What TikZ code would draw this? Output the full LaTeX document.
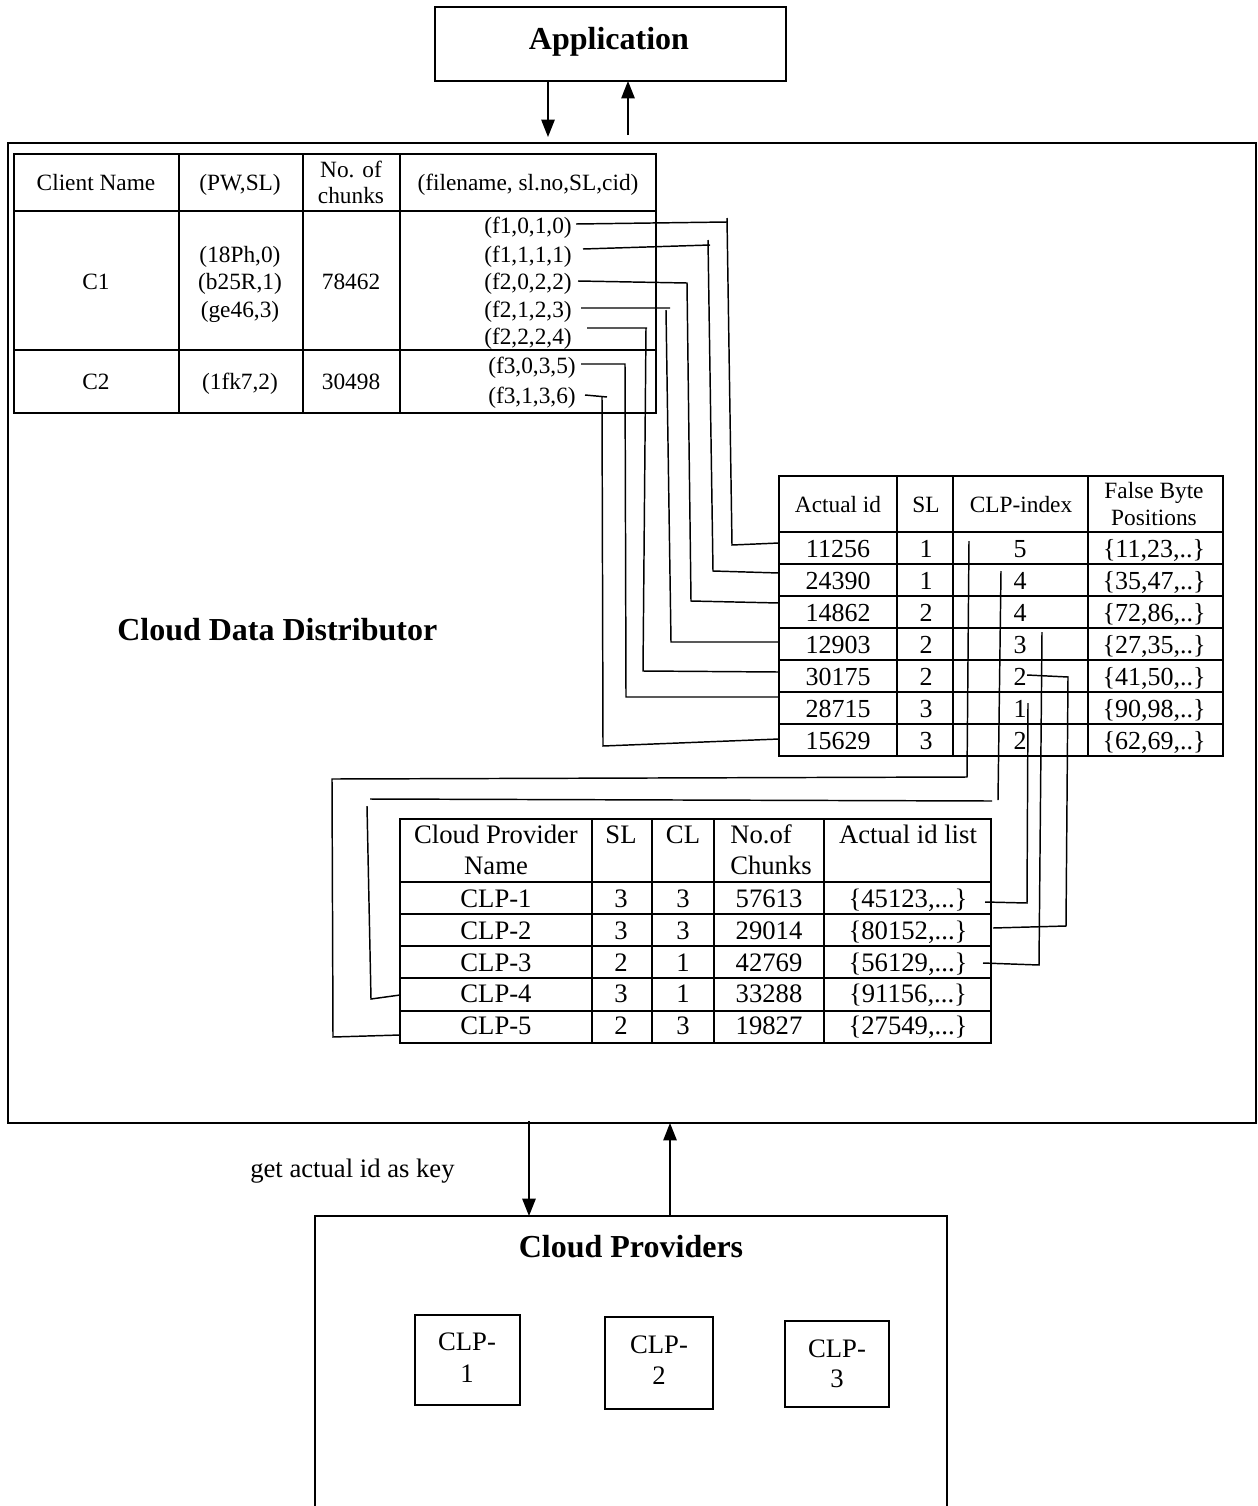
\documentclass[tikz,border=0pt]{standalone}
\usepackage{fontspec}
\setmainfont{Liberation Serif}
\usetikzlibrary{arrows.meta,fit}
\begin{document}
\begin{tikzpicture}[x=0.75pt,y=-0.75pt,
  box/.style={draw, line width=1.3pt, inner sep=0pt},
  tbl/.style={line width=1.5pt},
  conn/.style={line width=1.1pt},
  arr/.style={line width=1.2pt, -{Triangle[width=10pt,length=13pt]}},
  ttl/.style={font=\fontsize{24}{28}\selectfont\bfseries, inner sep=0pt, anchor=base},
  tA/.style={font=\fontsize{17.5}{21}\selectfont, inner sep=0pt, anchor=base},
  tBh/.style={font=\fontsize{17.5}{21}\selectfont, inner sep=0pt, anchor=base},
  tB/.style={font=\fontsize{19.5}{23}\selectfont, inner sep=0pt, anchor=base},
  tC/.style={font=\fontsize{20}{24}\selectfont, inner sep=0pt, anchor=base}
]
\useasboundingbox (0,0) rectangle (1257,1506);

% ---------------- Application ----------------
\node[box, fit={(435,7)(786,81)}] (app) {};
\node[ttl] (apptitle) at (609,49) {Application};

% ---------------- Cloud Data Distributor ----------------
\node[box, fit={(8,143)(1256,1123)}] (cdd) {};
\node[ttl, anchor=base west] (cddtitle) at (117,640) {Cloud Data Distributor};

\coordinate (a1s) at (548,81);  \coordinate (a1e) at (548,137);
\coordinate (a2s) at (628,135); \coordinate (a2e) at (628,81);
\draw[arr] (a1s) -- (a1e);
\draw[arr] (a2s) -- (a2e);

% ---------------- Table 1 ----------------
\draw[tbl] (14,154) rectangle (656,413);
\draw[tbl] (179,154) -- (179,413) (303,154) -- (303,413) (400,154) -- (400,413);
\draw[tbl] (14,211) -- (656,211) (14,350) -- (656,350);
\node[tA] (h11) at (96,190) {Client Name};
\node[tA] (h12) at (240,190) {(PW,SL)};
\node[tA] (h13a) at (351,177) {No. of};
\node[tA] (h13b) at (351,203) {chunks};
\node[tA] (h14) at (528,190) {(filename, sl.no,SL,cid)};
\node[tA] (c1) at (96,289) {C1};
\node[tA] (pw1) at (240,262) {(18Ph,0)};
\node[tA] (pw2) at (240,289) {(b25R,1)};
\node[tA] (pw3) at (240,317) {(ge46,3)};
\node[tA] (nc1) at (351,289) {78462};
\node[tA, anchor=base east] (f1) at (572,233) {(f1,0,1,0)};
\node[tA, anchor=base east] (f2) at (572,262) {(f1,1,1,1)};
\node[tA, anchor=base east] (f3) at (572,289) {(f2,0,2,2)};
\node[tA, anchor=base east] (f4) at (572,317) {(f2,1,2,3)};
\node[tA, anchor=base east] (f5) at (572,344) {(f2,2,2,4)};
\node[tA] (c2) at (96,389) {C2};
\node[tA] (pw4) at (240,389) {(1fk7,2)};
\node[tA] (nc2) at (351,389) {30498};
\node[tA, anchor=base east] (f6) at (576,373) {(f3,0,3,5)};
\node[tA, anchor=base east] (f7) at (576,403) {(f3,1,3,6)};

% ---------------- Table 2 ----------------
\draw[tbl] (779,476) rectangle (1223,756);
\draw[tbl] (897,476) -- (897,756) (953,476) -- (953,756) (1088,476) -- (1088,756);
\foreach \yy in {532,564,596,628,660,692,724} \draw[tbl] (779,\yy) -- (1223,\yy);
\node[tBh] (g1) at (838,512) {Actual id};
\node[tBh] (g2) at (926,512) {SL};
\node[tBh] (g3) at (1021,512) {CLP-index};
\node[tBh] (g4a) at (1154,498) {False Byte};
\node[tBh] (g4b) at (1154,525) {Positions};

\node[tB] (id1) at (838,557) {11256}; \node[tB] (s1) at (926,557) {1}; \node[tB] (x1) at (1020,557) {5}; \node[tB] (fb1) at (1154,557) {\{11,23,..\}};
\node[tB] (id2) at (838,589) {24390}; \node[tB] (s2) at (926,589) {1}; \node[tB] (x2) at (1020,589) {4}; \node[tB] (fb2) at (1154,589) {\{35,47,..\}};
\node[tB] (id3) at (838,621) {14862}; \node[tB] (s3) at (926,621) {2}; \node[tB] (x3) at (1020,621) {4}; \node[tB] (fb3) at (1154,621) {\{72,86,..\}};
\node[tB] (id4) at (838,653) {12903}; \node[tB] (s4) at (926,653) {2}; \node[tB] (x4) at (1020,653) {3}; \node[tB] (fb4) at (1154,653) {\{27,35,..\}};
\node[tB] (id5) at (838,685) {30175}; \node[tB] (s5) at (926,685) {2}; \node[tB] (x5) at (1020,685) {2}; \node[tB] (fb5) at (1154,685) {\{41,50,..\}};
\node[tB] (id6) at (838,717) {28715}; \node[tB] (s6) at (926,717) {3}; \node[tB] (x6) at (1020,717) {1}; \node[tB] (fb6) at (1154,717) {\{90,98,..\}};
\node[tB] (id7) at (838,749) {15629}; \node[tB] (s7) at (926,749) {3}; \node[tB] (x7) at (1020,749) {2}; \node[tB] (fb7) at (1154,749) {\{62,69,..\}};

% ---------------- Table 3 ----------------
\draw[tbl] (400,819) rectangle (991,1043);
\draw[tbl] (592,819) -- (592,1043) (652,819) -- (652,1043) (714,819) -- (714,1043) (824,819) -- (824,1043);
\foreach \yy in {882,914,946,978,1011} \draw[tbl] (400,\yy) -- (991,\yy);
\node[tC] (k1a) at (496,843) {Cloud Provider};
\node[tC] (k1b) at (496,874) {Name};
\node[tC] (k2) at (621,843) {SL};
\node[tC] (k3) at (683,843) {CL};
\node[tC, anchor=base west] (k4a) at (730,843) {No.of};
\node[tC, anchor=base west] (k4b) at (730,874) {Chunks};
\node[tC] (k5) at (908,843) {Actual id list};

\node[tC] (cp1) at (496,907) {CLP-1}; \node[tC] (sl1) at (621,907) {3}; \node[tC] (cl1) at (683,907) {3}; \node[tC] (nn1) at (769,907) {57613}; \node[tC] (al1) at (908,907) {\{45123,...\}};
\node[tC] (cp2) at (496,939) {CLP-2}; \node[tC] (sl2) at (621,939) {3}; \node[tC] (cl2) at (683,939) {3}; \node[tC] (nn2) at (769,939) {29014}; \node[tC] (al2) at (908,939) {\{80152,...\}};
\node[tC] (cp3) at (496,971) {CLP-3}; \node[tC] (sl3) at (621,971) {2}; \node[tC] (cl3) at (683,971) {1}; \node[tC] (nn3) at (769,971) {42769}; \node[tC] (al3) at (908,971) {\{56129,...\}};
\node[tC] (cp4) at (496,1002) {CLP-4}; \node[tC] (sl4) at (621,1002) {3}; \node[tC] (cl4) at (683,1002) {1}; \node[tC] (nn4) at (769,1002) {33288}; \node[tC] (al4) at (908,1002) {\{91156,...\}};
\node[tC] (cp5) at (496,1034) {CLP-5}; \node[tC] (sl5) at (621,1034) {2}; \node[tC] (cl5) at (683,1034) {3}; \node[tC] (nn5) at (769,1034) {19827}; \node[tC] (al5) at (908,1034) {\{27549,...\}};

% ---------------- connectors table 1 -> table 2 ----------------
\coordinate (p1) at (576,224); \coordinate (q1) at (779,543);
\coordinate (p2) at (583,249); \coordinate (q2) at (779,573);
\coordinate (p3) at (578,281); \coordinate (q3) at (779,603);
\coordinate (p4) at (581,308); \coordinate (q4) at (779,642);
\coordinate (p5) at (587,328); \coordinate (q5) at (779,672);
\coordinate (p6) at (581,364); \coordinate (q6) at (779,697);
\coordinate (p7) at (585,395); \coordinate (q7) at (779,739);
\draw[conn] (p1) -- (727,222) (727,218) -- (732,545) -- (q1);
\draw[conn] (p2) -- (710,245) (708,240) -- (713,571) -- (q2);
\draw[conn] (p3) -- (687,283) -- (691,601) -- (q3);
\draw[conn] (p4) -- (670,308) (666,310) -- (671,642) -- (q4);
\draw[conn] (p5) -- (647,328) (646,328) -- (643,671) -- (q5);
\draw[conn] (p6) -- (625,364) -- (626,697) -- (q6);
\draw[conn] (p7) -- (607,397) (602,397) -- (603,746) -- (q7);

% ---------------- connectors table 2 -> table 3 ----------------
\coordinate (m1) at (969,541);  \coordinate (n1) at (400,1035);
\coordinate (m2) at (1001,571); \coordinate (n2) at (400,995);
\coordinate (m3) at (1042,632); \coordinate (n3) at (983,963);
\coordinate (m4) at (1027,675); \coordinate (n4) at (993,928);
\coordinate (m5) at (1028,703); \coordinate (n5) at (985,902);
\draw[conn] (m1) -- (967,777) -- (332,779) -- (333,1037) -- (n1);
\draw[conn] (m2) -- (998,800) (992,801) -- (370,799) (367,806) -- (371,999) -- (n2);
\draw[conn] (m3) -- (1039,965) -- (n3);
\draw[conn] (m4) -- (1068,677) -- (1066,926) -- (n4);
\draw[conn] (m5) -- (1027,903) -- (n5);

% ---------------- Cloud Providers ----------------
\draw[line width=1.3pt] (315,1512) -- (315,1216) -- (947,1216) -- (947,1512);
\node[ttl] (cptitle) at (631,1257) {Cloud Providers};
\coordinate (b1s) at (529,1121); \coordinate (b1e) at (529,1216);
\coordinate (b2s) at (670,1216); \coordinate (b2e) at (670,1123);
\draw[arr] (b1s) -- (b1e);
\draw[arr] (b2s) -- (b2e);
\node[tC, anchor=base west] (key) at (250,1177) {get actual id as key};

\node[box, fit={(415,1315)(520,1405)}] (clp1) {};
\node[box, fit={(605,1317)(713,1409)}] (clp2) {};
\node[box, fit={(785,1321)(889,1407)}] (clp3) {};
\node[tC] (clp1a) at (467,1350) {CLP-}; \node[tC] (clp1b) at (467,1382) {1};
\node[tC] (clp2a) at (659,1353) {CLP-}; \node[tC] (clp2b) at (659,1384) {2};
\node[tC] (clp3a) at (837,1357) {CLP-}; \node[tC] (clp3b) at (837,1387) {3};
\end{tikzpicture}
\end{document}
